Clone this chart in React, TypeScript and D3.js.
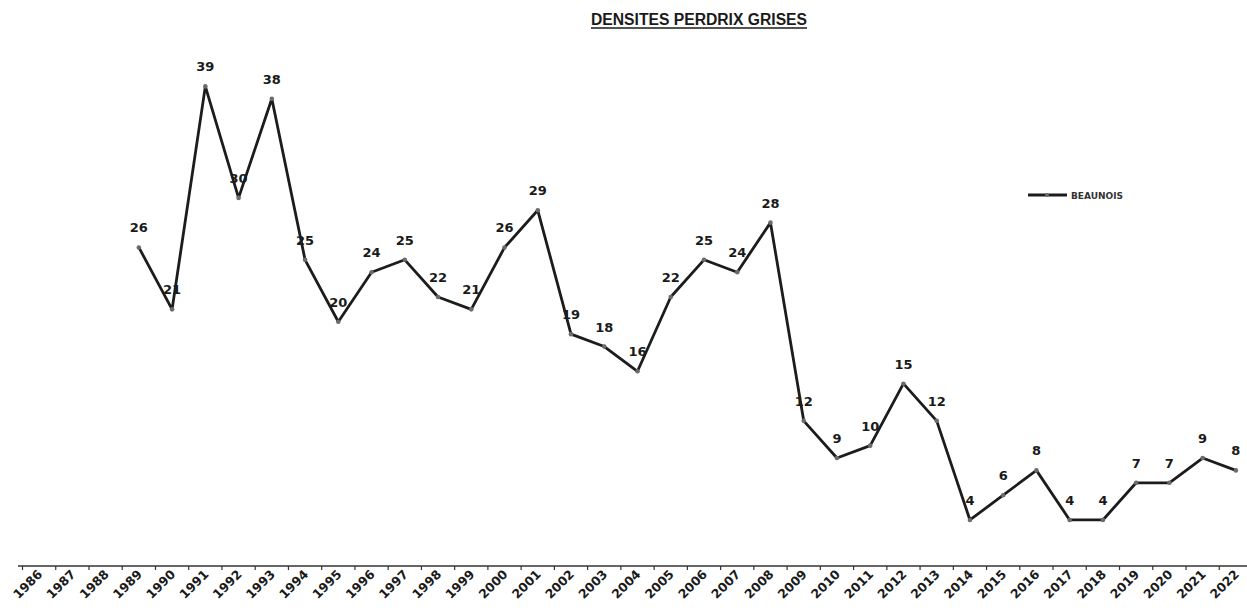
import * as d3 from 'd3';

const years = [
  '1986', '1987', '1988', '1989', '1990', '1991', '1992', '1993', '1994', '1995',
  '1996', '1997', '1998', '1999', '2000', '2001', '2002', '2003', '2004', '2005',
  '2006', '2007', '2008', '2009', '2010', '2011', '2012', '2013', '2014', '2015',
  '2016', '2017', '2018', '2019', '2020', '2021', '2022',
];

// counted years only (the series starts in 1989)
const countYears = [
  '1989', '1990', '1991', '1992', '1993', '1994', '1995', '1996', '1997', '1998',
  '1999', '2000', '2001', '2002', '2003', '2004', '2005', '2006', '2007', '2008',
  '2009', '2010', '2011', '2012', '2013', '2014', '2015', '2016', '2017', '2018',
  '2019', '2020', '2021', '2022',
];
const densities = [
  26, 21, 39, 30, 38, 25, 20, 24, 25, 22,
  21, 26, 29, 19, 18, 16, 22, 25, 24, 28,
  12, 9, 10, 15, 12, 4, 6, 8, 4, 4,
  7, 7, 9, 8,
];

const title = 'DENSITES PERDRIX GRISES';
const seriesName = 'BEAUNOIS';

const W = 1247;
const H = 611;
const axisY = 566;

export default function App() {
  const x = d3.scaleBand<string>().domain(years).range([22.5, 1252.5]);
  const y = d3.scaleLinear().domain([0, 40]).range([569.5, 74]);
  const cx = (yr: string) => (x(yr) ?? 0) + x.bandwidth() / 2;

  const points = countYears.map((yr, i) => ({ yr, v: densities[i] }));
  const line = d3.line<{ yr: string; v: number }>()
    .x(d => cx(d.yr))
    .y(d => y(d.v));

  return (
    <svg
      width={W}
      height={H}
      style={{ position: 'absolute', left: 0, top: 0, background: '#fff' }}
    >
      {/* title */}
      <text
        x={699}
        y={24.5}
        textAnchor="middle"
        textLength={216}
        lengthAdjust="spacingAndGlyphs"
        style={{ fontFamily: 'Liberation Sans, Arial', fontWeight: 700, fontSize: 16, fill: '#1a1a1a' }}
      >
        {title}
      </text>
      <line x1={591} x2={807} y1={28} y2={28} stroke="#1a1a1a" strokeWidth={1.6} />

      {/* category axis */}
      <line x1={18} x2={W} y1={axisY} y2={axisY} stroke="#333" strokeWidth={1.4} />
      {years.map(yr => (
        <line
          key={'t' + yr}
          x1={x(yr)}
          x2={x(yr)}
          y1={axisY}
          y2={axisY + 4}
          stroke="#333"
          strokeWidth={1.2}
        />
      ))}
      {years.map(yr => (
        <text
          key={'l' + yr}
          transform={`translate(${cx(yr) + 4},${axisY + 9}) rotate(-45)`}
          textAnchor="end"
          style={{ fontFamily: 'DejaVu Sans', fontWeight: 700, fontSize: 12.5, fill: '#1a1a1a' }}
        >
          {yr}
        </text>
      ))}

      {/* data labels */}
      {points.map(p => (
        <text
          key={'d' + p.yr}
          x={cx(p.yr)}
          y={y(p.v) - 15}
          textAnchor="middle"
          style={{ fontFamily: 'DejaVu Sans', fontWeight: 700, fontSize: 13, fill: '#1a1a1a' }}
        >
          {p.v}
        </text>
      ))}

      {/* series */}
      <path
        d={line(points) ?? ''}
        fill="none"
        stroke="#1c1c1c"
        strokeWidth={2.8}
        strokeLinejoin="round"
      />
      {points.map(p => (
        <circle key={'c' + p.yr} cx={cx(p.yr)} cy={y(p.v)} r={2.3} fill="#6b6b6b" />
      ))}

      {/* legend */}
      <line x1={1028} x2={1067} y1={195} y2={195} stroke="#1c1c1c" strokeWidth={3} />
      <circle cx={1047} cy={195} r={2} fill="#6b6b6b" />
      <text
        x={1071}
        y={198.5}
        style={{ fontFamily: 'DejaVu Sans', fontWeight: 700, fontSize: 9, fill: '#333' }}
      >
        {seriesName}
      </text>
    </svg>
  );
}
